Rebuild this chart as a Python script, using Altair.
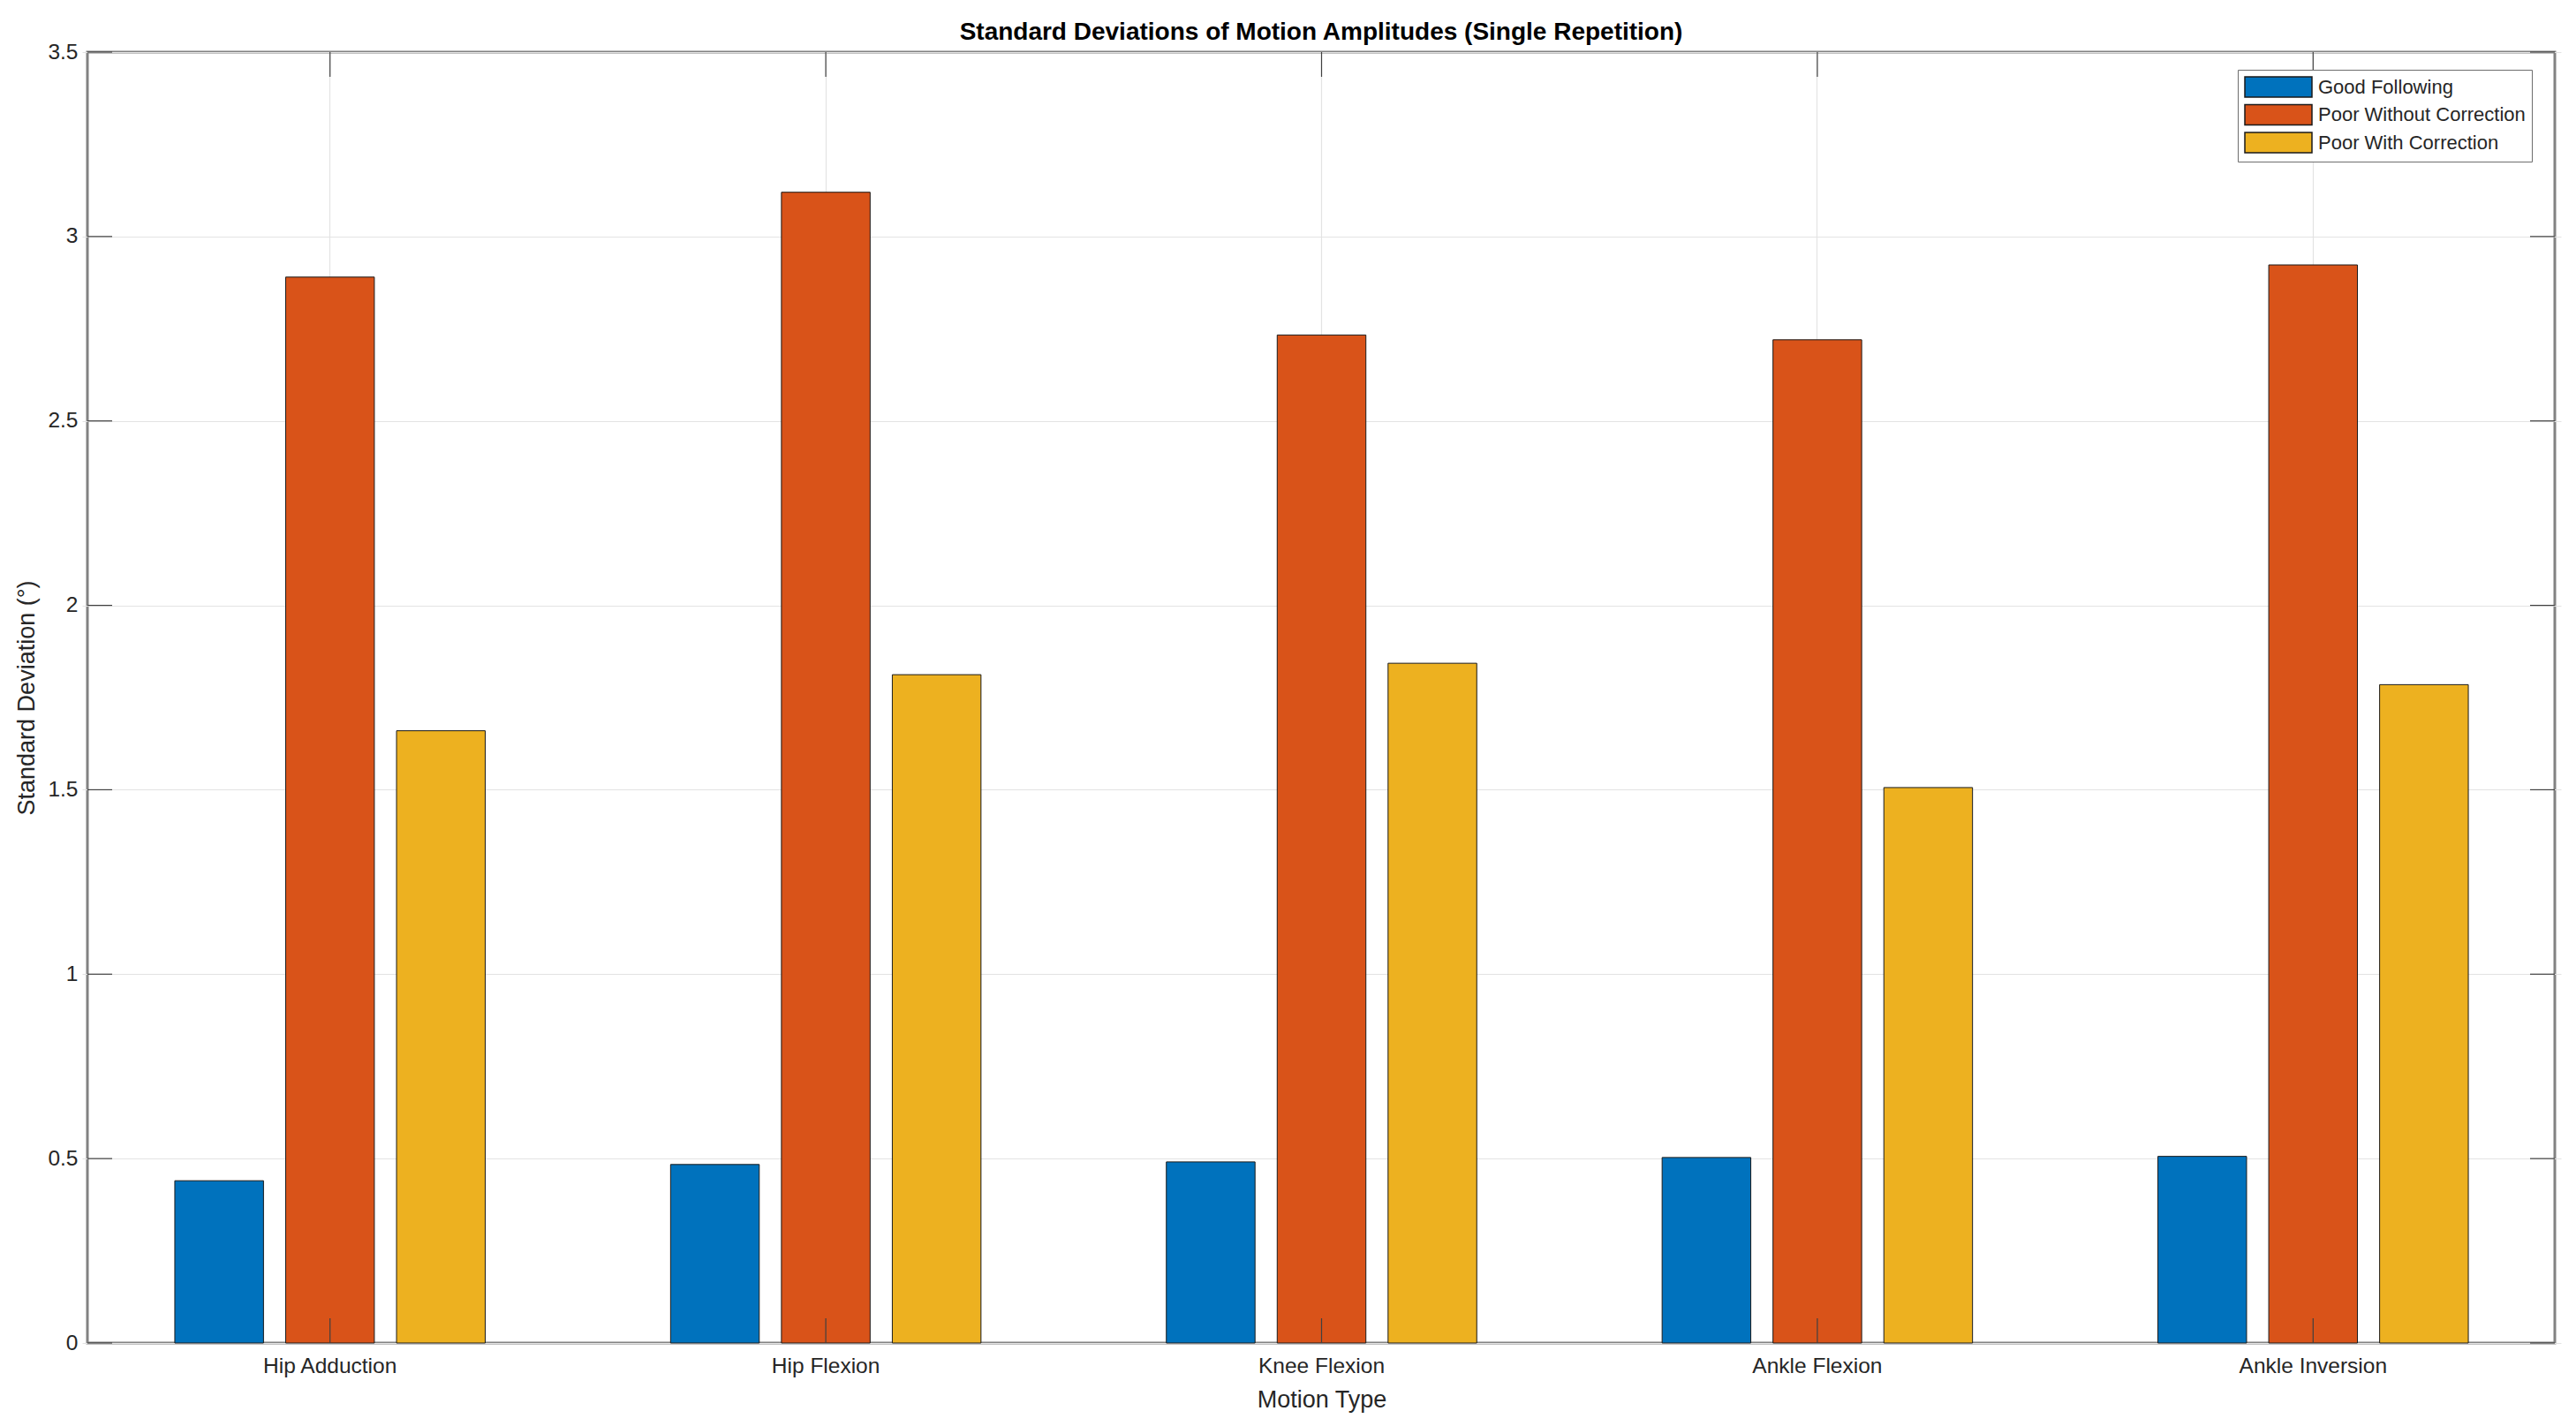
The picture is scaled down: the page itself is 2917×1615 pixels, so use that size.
import altair as alt
import pandas as pd

categories = ["Hip Adduction", "Hip Flexion", "Knee Flexion", "Ankle Flexion", "Ankle Inversion"]
series = ["Good Following", "Poor Without Correction", "Poor With Correction"]
good_following = [0.440, 0.484, 0.491, 0.503, 0.506]
poor_without = [2.890, 3.120, 2.733, 2.720, 2.923]
poor_with = [1.660, 1.812, 1.843, 1.506, 1.785]
colors = ["#0072BD", "#D95319", "#EDB120"]
y_ticks = [0, 0.5, 1, 1.5, 2, 2.5, 3, 3.5]

rows = []
for s, vals in zip(series, [good_following, poor_without, poor_with]):
    for c, v in zip(categories, vals):
        rows.append({"motion": c, "series": s, "value": v})
df = pd.DataFrame(rows)
ydf = pd.DataFrame({"value": y_ticks})
xdf = pd.DataFrame({"motion": categories})

W, H = 2794, 1462
FONT = "Liberation Sans"
TL = 28

xscale = alt.Scale(paddingInner=0, paddingOuter=0, range=[-6, 2801])
yscale = alt.Scale(domain=[0, 3.5], nice=False, zero=True)

x_axis = alt.Axis(title="Motion Type", labelAngle=0, grid=True, ticks=False, tickSize=0,
                  domain=False, labelPadding=14, labelFontSize=24.5,
                  titleFontSize=27, titleFontWeight="normal", titleY=64,
                  titleBaseline="middle", bandPosition=0.5)
y_axis = alt.Axis(title="Standard Deviation (°)", values=y_ticks, format="~g",
                  grid=True, ticks=False, tickSize=0, domain=False,
                  labelPadding=11, labelFontSize=24.5,
                  titleFontSize=27, titleFontWeight="normal",
                  titleX=-69, titleY=H / 2, titleAngle=-90,
                  titleBaseline="middle", titleAlign="center")

bars = alt.Chart(df).mark_bar(stroke="#1a1a1a", strokeWidth=1).encode(
    x=alt.X("motion:N", sort=categories, scale=xscale, axis=x_axis),
    xOffset=alt.XOffset("series:N", sort=series,
                        scale=alt.Scale(paddingInner=0.2, paddingOuter=0.836)),
    y=alt.Y("value:Q", scale=yscale, axis=y_axis),
    color=alt.Color("series:N", sort=series,
                    scale=alt.Scale(domain=series, range=colors),
                    legend=alt.Legend(orient="none", legendX=2435, legendY=20, title=None,
                                      symbolType="M-1,-1H5.609V1H-1Z", symbolSize=529,
                                      symbolStrokeColor="#1a1a1a", symbolStrokeWidth=1.5,
                                      symbolOpacity=1,
                                      labelFontSize=22, labelColor="#262626", labelOffset=59,
                                      labelLimit=500,
                                      padding=7, rowPadding=2.5,
                                      strokeColor="#6e6e6e", fillColor="white",
                                      cornerRadius=0)),
)

tick_style = dict(color="#404040", strokeWidth=1.2)
left_ticks = alt.Chart(ydf).mark_rule(**tick_style).encode(
    y=alt.Y("value:Q", scale=yscale, axis=y_axis), x=alt.value(0), x2=alt.value(TL))
right_ticks = alt.Chart(ydf).mark_rule(**tick_style).encode(
    y=alt.Y("value:Q", scale=yscale, axis=y_axis), x=alt.value(W), x2=alt.value(W - TL))
bottom_ticks = alt.Chart(xdf).mark_rule(**tick_style).encode(
    x=alt.X("motion:N", sort=categories, scale=xscale, axis=x_axis),
    y=alt.value(H), y2=alt.value(H - TL))
top_ticks = alt.Chart(xdf).mark_rule(**tick_style).encode(
    x=alt.X("motion:N", sort=categories, scale=xscale, axis=x_axis),
    y=alt.value(0), y2=alt.value(TL))

chart = alt.layer(bars, left_ticks, right_ticks, bottom_ticks, top_ticks).properties(
    width=W, height=H,
    autosize=alt.AutoSizeParams(type="none"),
    padding={"left": 91, "top": 51, "right": 16, "bottom": 86},
    title=alt.TitleParams("Standard Deviations of Motion Amplitudes (Single Repetition)",
                          fontSize=28, fontWeight="bold", color="#000000",
                          anchor="middle", offset=0, dy=5, font=FONT),
).configure(
    font=FONT, background="white"
).configure_view(
    stroke="#828282", strokeWidth=3
).configure_axis(
    labelFont=FONT, titleFont=FONT, labelColor="#262626", titleColor="#262626",
    gridColor="#e3e3e3", gridWidth=1.2
).configure_legend(
    labelFont=FONT
)

chart.save("out.html", embed_options={"renderer": "svg", "actions": False})
